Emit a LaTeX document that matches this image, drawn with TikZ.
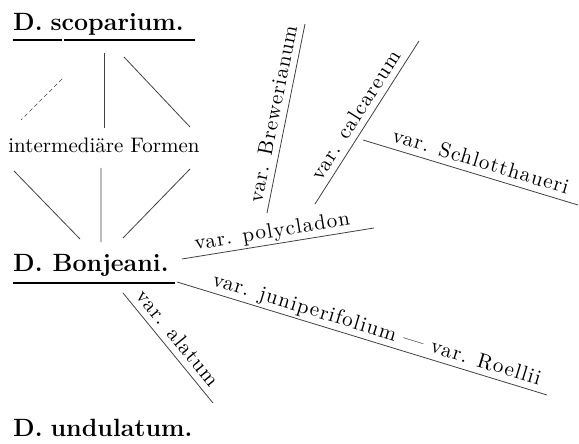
\documentclass[tikz,border=0pt]{standalone}
\usepackage{fontspec}
\newfontfamily\labfont{lmroman10-regular.otf}
\newfontfamily\varfont{lmroman10-regular.otf}[LetterSpace=5]

\begin{document}
\begin{tikzpicture}[x=1pt,y=1pt,
      taxon/.style={anchor=base west,inner sep=0pt,font=\fontsize{25}{25}\bfseries\selectfont},
      varlabel/.style={above,sloped,text depth=0pt,inner xsep=0pt,inner ysep=6.5pt,font=\varfont\fontsize{21}{21}\selectfont},
      branch/.style={draw=black!75,line width=0.8pt},
      uline/.style={line width=1.8pt}]
      \useasboundingbox (0,0) rectangle (579,444);
      \node[taxon] (scop)  at (13,413) {D.\hspace{8pt}scoparium.};
      \node[taxon] (bonj)  at (13,172) {D.\hspace{10pt}Bonjeani.};
      \node[taxon] (undu)  at (13,7)   {D.\hspace{8pt}undulatum.};
      \node[anchor=base,inner sep=0pt,font=\labfont\fontsize{21}{21}\selectfont] (inter) at (104,291) {intermediäre Formen};
      \draw[uline] (scop.base west) ++(0,-9) -- ++(49,0) ++(2,0) -- ++(131,0);
      \draw[uline] (bonj.base west) ++(0,-11) -- ++(162,0);
      % scoparium -- intermediaere Formen
      \coordinate (s1) at (62,365);  \coordinate (i1) at (21,324);
      \coordinate (s2) at (104,391); \coordinate (i2) at (104,316);
      \coordinate (s3) at (124,387); \coordinate (i3) at (190,317);
      \draw[branch,line width=0.6pt,dash pattern=on 4pt off 3pt] (s1) -- (i1);
      \draw[branch] (s2) -- (i2);
      \draw[branch] (s3) -- (i3);
      % intermediaere Formen -- Bonjeani
      \coordinate (j1) at (14,273);  \coordinate (b1) at (80,205);
      \coordinate (j2) at (101,276); \coordinate (b2) at (101,202);
      \coordinate (j3) at (190,275); \coordinate (b3) at (123,206);
      \draw[branch] (j1) -- (b1) (j2) -- (b2) (j3) -- (b3);
      % varieties
      \coordinate (poly0) at (182,185); \coordinate (poly1) at (374,216);
      \coordinate (brew0) at (267,231); \coordinate (brew1) at (305,420);
      \coordinate (calc0) at (315,240); \coordinate (calc1) at (419,403);
      \coordinate (schl0) at (363,304); \coordinate (schl1) at (578,239);
      \coordinate (juni0) at (177,162); \coordinate (juni1) at (547,49);
      \coordinate (alat0) at (123,151); \coordinate (alat1) at (213,41);
      \draw[branch] (poly0) -- (poly1) node[varlabel,pos=.48] (poly) {var. polycladon};
      \draw[branch] (brew0) -- (brew1) node[varlabel,pos=.51] (brew) {var. Brewerianum};
      \draw[branch] (calc0) -- (calc1) node[varlabel,pos=.5] (calc) {var. calcareum};
      \draw[branch] (schl0) -- (schl1) node[varlabel,pos=.53] (schl) {var. Schlotthaueri};
      \draw[branch] (juni0) -- (juni1) node[varlabel,pos=.53] (juni) {var. juniperifolium — var. Roellii};
      \draw[branch] (alat0) -- (alat1) node[varlabel,pos=.49] (alat) {var. alatum};
    \end{tikzpicture}
\end{document}
